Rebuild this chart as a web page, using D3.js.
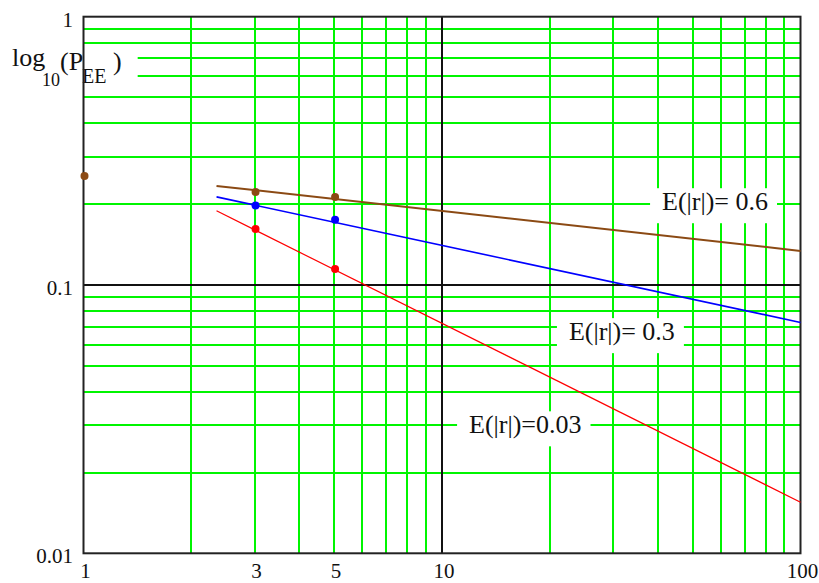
<!DOCTYPE html>
<html>
<head>
<meta charset="utf-8">
<script src="https://cdn.jsdelivr.net/npm/d3@7"></script>
<style>
  html, body { margin: 0; padding: 0; background: #fff; }
  svg { display: block; }
  text { font-family: "Liberation Serif", "Times New Roman", serif; fill: #111; }
</style>
</head>
<body>
<svg id="chart" width="819" height="583"></svg>
<script>
// Axis ticks
const xTickValues = [1, 3, 5, 10, 100];
const yTickValues = [0.01, 0.1, 1];
const yTickLabels = ["0.01", "0.1", "1"];

// Measured points
const brownPointX = [1, 3, 5];
const brownPointY = [0.255, 0.222, 0.213];
const bluePointX = [3, 5];
const bluePointY = [0.198, 0.175];
const redPointX = [3, 5];
const redPointY = [0.1616, 0.1147];

// Fitted power-law lines (end points)
const lineX = [2.35, 100];
const brownLineY = [0.234, 0.134];
const blueLineY = [0.213, 0.0725];
const redLineY = [0.189, 0.0155];

// Curve annotations
const labelText = ["E(|r|)= 0.6", "E(|r|)= 0.3", "E(|r|)=0.03"];
const labelX = [41.1, 22.6, 11.9];
const labelY = [0.190, 0.0623, 0.0280];

const svg = d3.select("#chart");
const plotL = 83.5, plotR = 800.5, plotT = 16.7, plotB = 553.3;

const x = d3.scaleLog().domain([1, 100]).range([plotL, plotR]);
const y = d3.scaleLog().domain([0.01, 1]).range([plotB, plotT]);

// Minor grid: 2..9 within each decade
const minor = (d0, d1) => {
  const out = [];
  for (let d = d0; d < d1; d *= 10) for (let k = 2; k <= 9; k++) out.push(+(d * k).toPrecision(3));
  return out;
};
const xMinor = minor(1, 100);
const yMinor = minor(0.01, 1);
const snap = v => Math.round(v);

const grid = svg.append("g");
grid.append("g").selectAll("line").data(xMinor).join("line")
  .attr("x1", d => snap(x(d))).attr("x2", d => snap(x(d)))
  .attr("y1", plotT).attr("y2", plotB)
  .attr("stroke", "#00f500").attr("stroke-width", 2);
grid.append("g").selectAll("line").data(yMinor).join("line")
  .attr("x1", plotL).attr("x2", plotR)
  .attr("y1", d => snap(y(d))).attr("y2", d => snap(y(d)))
  .attr("stroke", "#00f500").attr("stroke-width", 2);

// Decade lines
grid.append("line").attr("x1", snap(x(10))).attr("x2", snap(x(10))).attr("y1", plotT).attr("y2", plotB)
  .attr("stroke", "#111").attr("stroke-width", 2);
grid.append("line").attr("x1", plotL).attr("x2", plotR).attr("y1", snap(y(0.1))).attr("y2", snap(y(0.1)))
  .attr("stroke", "#111").attr("stroke-width", 2);

// Y axis title with white backing
const titleG = svg.append("g");
const titleBg = titleG.append("rect").attr("fill", "#fff");
const title = titleG.append("text");
title.append("tspan").attr("x", 12).attr("y", 66).attr("font-size", 26).text("log");
title.append("tspan").attr("x", 42).attr("y", 86).attr("font-size", 18).text("10");
title.append("tspan").attr("x", 60).attr("y", 70).attr("font-size", 26).text("(P");
title.append("tspan").attr("x", 82).attr("y", 83).attr("font-size", 20).text("EE");
title.append("tspan").attr("x", 113).attr("y", 70).attr("font-size", 26).text(")");
const tb = title.node().getBBox();
titleBg.attr("x", tb.x - 2).attr("y", tb.y + 6).attr("width", tb.width + 18).attr("height", tb.height - 10);

// Curve labels with white backing
const labels = svg.append("g");
labelText.forEach((t, i) => {
  const g = labels.append("g");
  const bg = g.append("rect").attr("fill", "#fff");
  const txt = g.append("text").attr("x", x(labelX[i])).attr("y", y(labelY[i]))
    .attr("font-size", 26).text(t);
  const b = txt.node().getBBox();
  bg.attr("x", b.x - 12).attr("y", b.y + 1).attr("width", b.width + 21).attr("height", b.height + 6);
});

// Border
svg.append("rect").attr("x", plotL).attr("y", plotT)
  .attr("width", plotR - plotL).attr("height", plotB - plotT)
  .attr("fill", "none").attr("stroke", "#222").attr("stroke-width", 2);

// Tick labels
svg.append("g").selectAll("text").data(xTickValues).join("text")
  .attr("x", d => x(d) + 2).attr("y", 578)
  .attr("text-anchor", "middle").attr("font-size", 21)
  .text(d => d);
svg.append("g").selectAll("text").data(yTickValues).join("text")
  .attr("x", 73).attr("y", d => y(d) + 10)
  .attr("text-anchor", "end").attr("font-size", 21)
  .text((d, i) => yTickLabels[i]);

// Fitted lines
const lineGen = d3.line().x(d => x(d[0])).y(d => y(d[1]));
const series = [
  { ys: brownLineY, color: "#8b4a14", width: 2 },
  { ys: blueLineY, color: "#0000ff", width: 1.6 },
  { ys: redLineY, color: "#ff0000", width: 1.2 }
];
svg.append("g").selectAll("path").data(series).join("path")
  .attr("d", s => lineGen(lineX.map((v, i) => [v, s.ys[i]])))
  .attr("fill", "none").attr("stroke", s => s.color).attr("stroke-width", s => s.width);

// Points
const pts = [
  { xs: brownPointX, ys: brownPointY, color: "#8b4a14" },
  { xs: bluePointX, ys: bluePointY, color: "#0000ff" },
  { xs: redPointX, ys: redPointY, color: "#ff0000" }
];
const pg = svg.append("g");
pts.forEach(p => {
  pg.selectAll(null).data(p.xs.map((v, i) => [v, p.ys[i]])).join("circle")
    .attr("cx", d => x(d[0]) + 1).attr("cy", d => y(d[1]))
    .attr("r", 4).attr("fill", p.color);
});
</script>
</body>
</html>
